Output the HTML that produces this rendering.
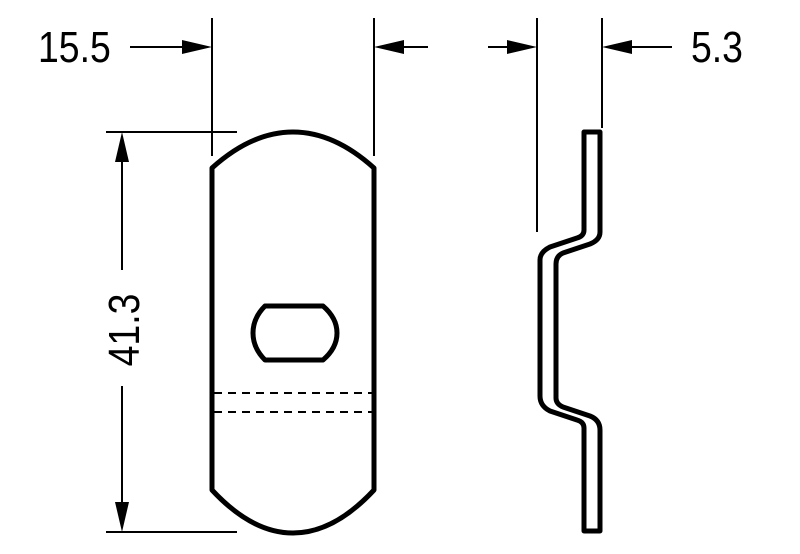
<!DOCTYPE html>
<html><head><meta charset="utf-8"><style>body{margin:0;background:#fff}svg{display:block}</style></head>
<body>
<svg width="800" height="554" viewBox="0 0 800 554" xmlns="http://www.w3.org/2000/svg">
<g stroke="#000" stroke-width="2" fill="none">
<line x1="212" y1="18" x2="212" y2="156"/>
<line x1="374" y1="18" x2="374" y2="156"/>
<line x1="537" y1="18" x2="537" y2="232"/>
<line x1="602" y1="18" x2="602" y2="128"/>
<line x1="130" y1="47" x2="185" y2="47"/>
<line x1="400" y1="47" x2="428" y2="47"/>
<line x1="488" y1="47" x2="510" y2="47"/>
<line x1="628" y1="47" x2="672" y2="47"/>
<line x1="106" y1="132" x2="237" y2="132"/>
<line x1="106" y1="532" x2="237" y2="532"/>
<line x1="122" y1="160" x2="122" y2="270"/>
<line x1="122" y1="386" x2="122" y2="505"/>
</g>
<g fill="#000">
<polygon points="212,47 182,40 182,54"/>
<polygon points="374,47 404,40 404,54"/>
<polygon points="537,47 507,40 507,54"/>
<polygon points="602,47 632,40 632,54"/>
<polygon points="122,132 115,162 129,162"/>
<polygon points="122,532 115,502 129,502"/>
</g>
<g font-family="Liberation Sans, sans-serif" font-size="44" fill="#000">
<text transform="translate(38,62) scale(0.85,1)">15.5</text>
<text transform="translate(691,62) scale(0.85,1)">5.3</text>
<text transform="translate(139,330) rotate(-90) scale(0.85,1)" text-anchor="middle">41.3</text>
</g>
<g stroke="#000" stroke-width="5" fill="none" stroke-linejoin="round">
<path d="M212,490 L212,168 Q252,132 293,132 Q334,132 374,168 L374,490 Q334,533 293,533 Q252,533 212,490 Z"/>
<path d="M265,306 L323,306 Q337,318 337,333 Q337,348 323,360 L265,360 Q253,348 253,333 Q253,318 265,306 Z"/>
<path d="M584,132 L600,132 L600,232 Q600,240 590,244 L563,253 Q556,256 556,264 L556,398 Q556,404 563,407 L590,416 Q600,420 600,430 L600,531 L584,531 L584,428 Q584,422 577,420 L550,411 Q540,406 540,396 L540,260 Q540,252 550,247 L577,238 Q584,236 584,230 Z"/>
</g>
<g stroke="#000" stroke-width="2" stroke-dasharray="8,6">
<line x1="214" y1="393" x2="372" y2="393"/>
<line x1="214" y1="412" x2="372" y2="412"/>
</g>
</svg>
</body></html>
